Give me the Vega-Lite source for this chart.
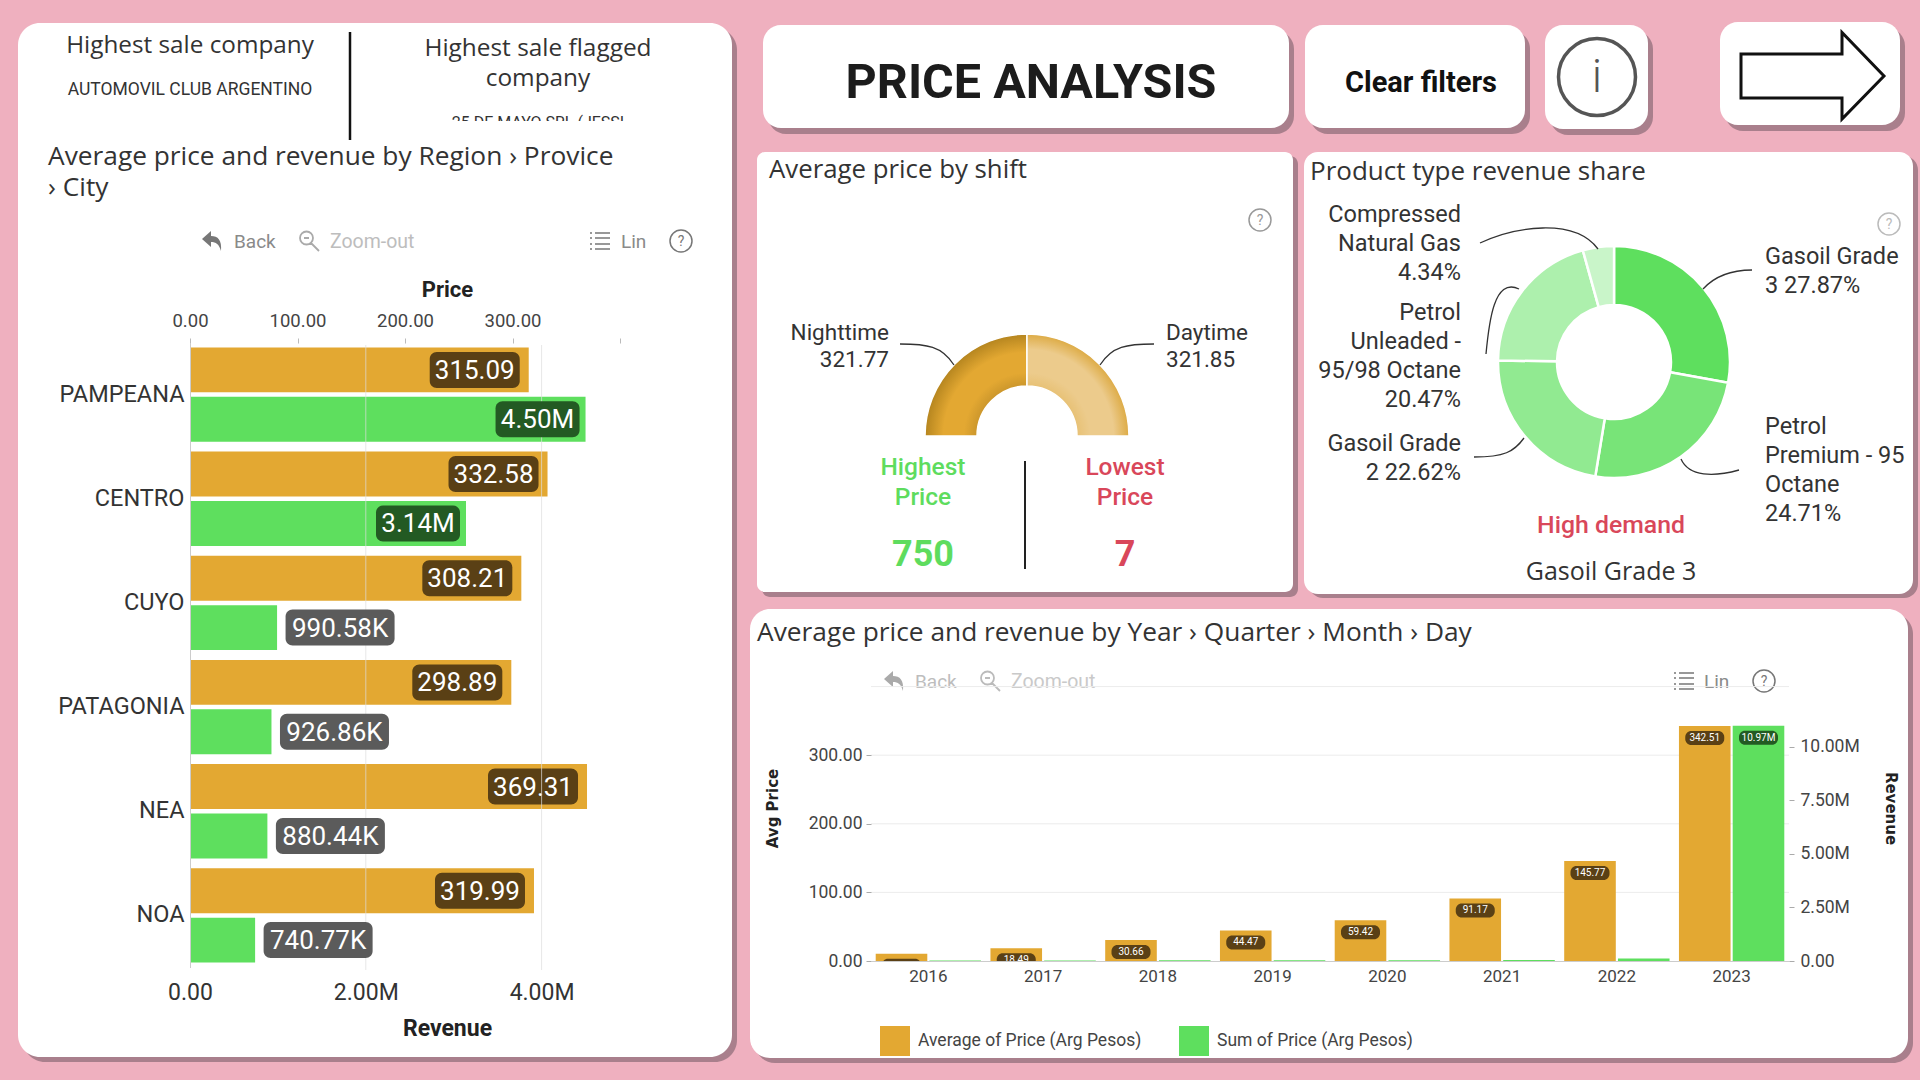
{
"$schema":"https://vega.github.io/schema/vega-lite/v6.json",
"width":1920,"height":1080,"padding":0,
"autosize":{"type":"fit","contains":"padding"},
"background":"#EFB0BF",
"config":{"view":{"stroke":null},"text":{"font":"Roboto","baseline":"middle","color":"#333333","fontSize":23.5,"lineHeight":29},
"axis":{"labelFont":"Roboto","titleFont":"Roboto","grid":false}},
"resolve":{"scale":{"x":"independent","y":"independent","color":"independent","theta":"independent","xOffset":"independent","yOffset":"independent"},"axis":{"x":"independent","y":"independent"},"legend":{"color":"independent"}},
"datasets":{
"card":[{"part":"card"}],
"regions":[
{"region":"PAMPEANA","series":"Price","value":315.09,"label":"315.09"},
{"region":"CENTRO","series":"Price","value":332.58,"label":"332.58"},
{"region":"CUYO","series":"Price","value":308.21,"label":"308.21"},
{"region":"PATAGONIA","series":"Price","value":298.89,"label":"298.89"},
{"region":"NEA","series":"Price","value":369.31,"label":"369.31"},
{"region":"NOA","series":"Price","value":319.99,"label":"319.99"},
{"region":"PAMPEANA","series":"Revenue","value":4500000,"label":"4.50M"},
{"region":"CENTRO","series":"Revenue","value":3140000,"label":"3.14M"},
{"region":"CUYO","series":"Revenue","value":990580,"label":"990.58K"},
{"region":"PATAGONIA","series":"Revenue","value":926860,"label":"926.86K"},
{"region":"NEA","series":"Revenue","value":880440,"label":"880.44K"},
{"region":"NOA","series":"Revenue","value":740770,"label":"740.77K"}],
"years":[
{"year":"2016","series":"Average of Price (Arg Pesos)","value":10.72,"label":"10.72"},
{"year":"2017","series":"Average of Price (Arg Pesos)","value":18.49,"label":"18.49"},
{"year":"2018","series":"Average of Price (Arg Pesos)","value":30.66,"label":"30.66"},
{"year":"2019","series":"Average of Price (Arg Pesos)","value":44.47,"label":"44.47"},
{"year":"2020","series":"Average of Price (Arg Pesos)","value":59.42,"label":"59.42"},
{"year":"2021","series":"Average of Price (Arg Pesos)","value":91.17,"label":"91.17"},
{"year":"2022","series":"Average of Price (Arg Pesos)","value":145.77,"label":"145.77"},
{"year":"2023","series":"Average of Price (Arg Pesos)","value":342.51,"label":"342.51"},
{"year":"2016","series":"Sum of Price (Arg Pesos)","value":20000,"label":""},
{"year":"2017","series":"Sum of Price (Arg Pesos)","value":25000,"label":""},
{"year":"2018","series":"Sum of Price (Arg Pesos)","value":30000,"label":""},
{"year":"2019","series":"Sum of Price (Arg Pesos)","value":35000,"label":""},
{"year":"2020","series":"Sum of Price (Arg Pesos)","value":40000,"label":""},
{"year":"2021","series":"Sum of Price (Arg Pesos)","value":50000,"label":""},
{"year":"2022","series":"Sum of Price (Arg Pesos)","value":120000,"label":""},
{"year":"2023","series":"Sum of Price (Arg Pesos)","value":10970000,"label":"10.97M"}],
"shift":[{"shift":"Nighttime","price":321.77},{"shift":"Daytime","price":321.85}],
"share":[{"product":"Gasoil Grade 3","share":27.87},{"product":"Petrol Premium - 95 Octane","share":24.71},{"product":"Gasoil Grade 2","share":22.62},{"product":"Petrol Unleaded - 95/98 Octane","share":20.47},{"product":"Compressed Natural Gas","share":4.34}]
},
"data":{"name":"card"},
"layer":[
{"mark":{"type":"rect","fill":"#A97F8C","cornerRadius":22},"encoding":{"x":{"value":23},"x2":{"value":737},"y":{"value":28},"y2":{"value":1062}}},
{"mark":{"type":"rect","fill":"#ffffff","cornerRadius":22},"encoding":{"x":{"value":18},"x2":{"value":732},"y":{"value":23},"y2":{"value":1057}}},
{"mark":{"type":"rect","fill":"#A97F8C","cornerRadius":18},"encoding":{"x":{"value":768},"x2":{"value":1294},"y":{"value":31},"y2":{"value":134}}},
{"mark":{"type":"rect","fill":"#ffffff","cornerRadius":18},"encoding":{"x":{"value":763},"x2":{"value":1289},"y":{"value":25},"y2":{"value":128}}},
{"mark":{"type":"rect","fill":"#A97F8C","cornerRadius":18},"encoding":{"x":{"value":1310},"x2":{"value":1530},"y":{"value":31},"y2":{"value":134}}},
{"mark":{"type":"rect","fill":"#ffffff","cornerRadius":18},"encoding":{"x":{"value":1305},"x2":{"value":1525},"y":{"value":25},"y2":{"value":128}}},
{"mark":{"type":"rect","fill":"#A97F8C","cornerRadius":18},"encoding":{"x":{"value":1550},"x2":{"value":1653},"y":{"value":31},"y2":{"value":135}}},
{"mark":{"type":"rect","fill":"#ffffff","cornerRadius":18},"encoding":{"x":{"value":1545},"x2":{"value":1648},"y":{"value":25},"y2":{"value":129}}},
{"mark":{"type":"rect","fill":"#A97F8C","cornerRadius":18},"encoding":{"x":{"value":1725},"x2":{"value":1905},"y":{"value":28},"y2":{"value":131}}},
{"mark":{"type":"rect","fill":"#ffffff","cornerRadius":18},"encoding":{"x":{"value":1720},"x2":{"value":1900},"y":{"value":22},"y2":{"value":125}}},
{"mark":{"type":"rect","fill":"#A97F8C","cornerRadius":8},"encoding":{"x":{"value":762},"x2":{"value":1298},"y":{"value":156},"y2":{"value":597}}},
{"mark":{"type":"rect","fill":"#ffffff","cornerRadius":8},"encoding":{"x":{"value":757},"x2":{"value":1293},"y":{"value":152},"y2":{"value":592}}},
{"mark":{"type":"rect","fill":"#A97F8C","cornerRadius":14},"encoding":{"x":{"value":1309},"x2":{"value":1918},"y":{"value":156},"y2":{"value":598}}},
{"mark":{"type":"rect","fill":"#ffffff","cornerRadius":14},"encoding":{"x":{"value":1304},"x2":{"value":1913},"y":{"value":152},"y2":{"value":594}}},
{"mark":{"type":"rect","fill":"#A97F8C","cornerRadius":20},"encoding":{"x":{"value":755},"x2":{"value":1913},"y":{"value":614},"y2":{"value":1063}}},
{"mark":{"type":"rect","fill":"#ffffff","cornerRadius":20},"encoding":{"x":{"value":750},"x2":{"value":1908},"y":{"value":609},"y2":{"value":1058}}},

{"data":{"values":[{"t":"Highest sale company"}]},"mark":{"type":"text","align":"center","font":"Open Sans","fontSize":24.3},"encoding":{"text":{"field":"t"},"x":{"value":190},"y":{"value":46}}},
{"data":{"values":[{"t":"AUTOMOVIL CLUB ARGENTINO"}]},"mark":{"type":"text","align":"center","fontSize":17.5},"encoding":{"text":{"field":"t"},"x":{"value":190},"y":{"value":90}}},
{"data":{"values":[{"t":"25 DE MAYO SRL (JESSI"}]},"mark":{"type":"text","align":"center","fontSize":16},"encoding":{"text":{"field":"t"},"x":{"value":538},"y":{"value":123}}},
{"mark":{"type":"rect","fill":"#ffffff"},"encoding":{"x":{"value":400},"x2":{"value":680},"y":{"value":121},"y2":{"value":138}}},
{"mark":{"type":"rule","stroke":"#111111","strokeWidth":2.5},"encoding":{"x":{"value":350},"y":{"value":32},"y2":{"value":140}}},
{"data":{"values":[{"t":"Highest sale flagged\ncompany"}]},"mark":{"type":"text","align":"center","font":"Open Sans","fontSize":24.4,"lineBreak":"\n","lineHeight":30},"encoding":{"text":{"field":"t"},"x":{"value":538},"y":{"value":49}}},
{"data":{"values":[{"t":"Average price and revenue by Region › Provice\n› City"}]},"mark":{"type":"text","align":"left","font":"Open Sans","fontSize":26.3,"lineBreak":"\n","lineHeight":31},"encoding":{"text":{"field":"t"},"x":{"value":48},"y":{"value":157}}},
{"data":{"values":[{"t":"Back"}]},"mark":{"type":"text","align":"left","fontSize":19,"color":"#8a8a8a"},"encoding":{"text":{"field":"t"},"x":{"value":234},"y":{"value":242}}},
{"data":{"values":[{"t":"Zoom-out"}]},"mark":{"type":"text","align":"left","fontSize":19.5,"color":"#bdbdbd"},"encoding":{"text":{"field":"t"},"x":{"value":330},"y":{"value":242}}},
{"data":{"values":[{"t":"Lin"}]},"mark":{"type":"text","align":"left","fontSize":19,"color":"#8a8a8a"},"encoding":{"text":{"field":"t"},"x":{"value":621},"y":{"value":242}}},
{"data":{"values":[{"t":"?"}]},"mark":{"type":"text","align":"center","fontSize":14,"color":"#777777"},"encoding":{"text":{"field":"t"},"x":{"value":681},"y":{"value":242}}},
{"mark":{"type":"point","shape":"circle","size":484,"stroke":"#777777","strokeWidth":1.5,"opacity":1},"encoding":{"x":{"value":681},"y":{"value":241}}},
{"mark":{"type":"point","shape":"M-10,-2 L-1,-10 L-1,-5 C6,-5 10,-1 9,10 C7,3 4,1 -1,1 L-1,6 Z","size":4,"filled":true,"fill":"#777777","opacity":1},"encoding":{"x":{"value":212},"y":{"value":241}}},
{"mark":{"type":"point","shape":"M-9,-3 A6.5,6.5 0 1,1 4,-3 A6.5,6.5 0 1,1 -9,-3 M2,2 L10,10 M-5,-3 L0,-3","size":4,"stroke":"#aaaaaa","strokeWidth":1.8,"opacity":1},"encoding":{"x":{"value":309},"y":{"value":241}}},
{"mark":{"type":"point","shape":"M-5,-8 L10,-8 M-5,-3 L10,-3 M-5,3 L10,3 M-5,8 L10,8 M-10,-8 L-8,-8 M-10,-3 L-8,-3 M-10,3 L-8,3 M-10,8 L-8,8","size":4,"stroke":"#777777","strokeWidth":1.5,"opacity":1},"encoding":{"x":{"value":600},"y":{"value":241}}},

{
"layer":[
{"transform":[{"filter":"datum.series=='Price'"}],"data":{"name":"regions"},
"encoding":{"x":{"field":"value","type":"quantitative","scale":{"domain":[0,400],"range":[190,620],"nice":false},
"axis":{"zindex":1,"orient":"top","offset":-343,"values":[0,100,200,300,400],"labelExpr":"datum.value<400?format(datum.value,'.2f'):''","labelFlush":false,"labelFontSize":18.5,"labelColor":"#444444","labelPadding":8,"domain":false,"tickColor":"#bbbbbb","tickSize":5,"title":"Price","titleFontSize":22,"titleFontWeight":"bold","titleColor":"#222222","titleX":447,"titleY":-42,"titlePadding":0}},
"y":{"field":"region","type":"nominal","sort":null,"scale":{"domain":["PAMPEANA","CENTRO","CUYO","PATAGONIA","NEA","NOA"],"range":[342.5,967.5],"paddingInner":0.094,"paddingOuter":0.047},
"axis":{"zindex":1,"orient":"left","offset":-190,"title":null,"labelFontSize":23.5,"labelColor":"#333333","ticks":false,"domainColor":"#cccccc","labelPadding":6}},
"yOffset":{"field":"series","scale":{"domain":["Price","Revenue"],"paddingInner":0.09}}},
"layer":[
{"mark":{"type":"bar","fill":"#E3A832"}},
{"mark":{"type":"rect","width":90,"height":36,"cornerRadius":7,"fill":"#5A4015","xOffset":-54,"yOffset":1}},
{"mark":{"type":"text","fontSize":26,"color":"#ffffff","dx":-54,"dy":1,"align":"center"},"encoding":{"text":{"field":"label"}}}
]},
{"transform":[{"filter":"datum.series=='Revenue'"}],"data":{"name":"regions"},
"encoding":{"x":{"field":"value","type":"quantitative","scale":{"domain":[0,4892000],"range":[190,620],"nice":false},
"axis":{"zindex":1,"orient":"bottom","offset":-108,"values":[0,2000000,4000000],"labelExpr":"datum.value==0?'0.00':format(datum.value/1000000,'.2f')+'M'","labelFlush":false,"labelFontSize":23,"labelColor":"#333333","labelPadding":9,"ticks":false,"domain":false,"title":"Revenue","titleFontSize":23,"titleFontWeight":"bold","titleColor":"#222222","titleX":447,"titleY":45,"titlePadding":0}},
"y":{"field":"region","type":"nominal","sort":null,"axis":{"zindex":1,"orient":"left","offset":-190,"title":null,"labelFontSize":23.5,"labelColor":"#333333","ticks":false,"domainColor":"#cccccc","labelPadding":6}},
"yOffset":{"field":"series"}},
"layer":[
{"mark":{"type":"bar","fill":"#5EDF5E"}},
{"data":{"values":[{"value":2000000},{"value":4000000}]},"mark":{"type":"rule","stroke":"#dddddd","strokeWidth":1,"opacity":0.7},"encoding":{"y":{"value":345},"y2":{"value":970},"yOffset":null}},
{"transform":[{"filter":"datum.value>=2000000"}],"mark":{"type":"rect","width":84,"height":36,"cornerRadius":7,"fill":"#235A23","xOffset":-48,"yOffset":1}},
{"transform":[{"filter":"datum.value>=2000000"}],"mark":{"type":"text","fontSize":26,"color":"#ffffff","dx":-48,"dy":1,"align":"center"},"encoding":{"text":{"field":"label"}}},
{"transform":[{"filter":"datum.value<2000000"}],"mark":{"type":"rect","width":109,"height":36,"cornerRadius":7,"fill":"#5B5B5B","xOffset":63,"yOffset":1}},
{"transform":[{"filter":"datum.value<2000000"}],"mark":{"type":"text","fontSize":26,"color":"#ffffff","dx":63,"dy":1,"align":"center"},"encoding":{"text":{"field":"label"}}}
]}
],
"resolve":{"scale":{"x":"independent"},"axis":{"x":"independent"}}
},

{"data":{"values":[{"t":"PRICE ANALYSIS"}]},"mark":{"type":"text","align":"center","fontSize":48.5,"fontWeight":"bold","color":"#1c1c1c"},"encoding":{"text":{"field":"t"},"x":{"value":1031},"y":{"value":83}}},
{"data":{"values":[{"t":"Clear filters"}]},"mark":{"type":"text","align":"center","fontSize":29,"fontWeight":"bold","color":"#111111"},"encoding":{"text":{"field":"t"},"x":{"value":1421},"y":{"value":83}}},
{"mark":{"type":"point","shape":"circle","size":5929,"stroke":"#555555","strokeWidth":3.5,"opacity":1},"encoding":{"x":{"value":1597},"y":{"value":77}}},
{"data":{"values":[{"t":"i"}]},"mark":{"type":"text","align":"center","fontSize":46,"fontWeight":300,"color":"#555555"},"encoding":{"text":{"field":"t"},"x":{"value":1597},"y":{"value":78}}},
{"mark":{"type":"point","shape":"M-69,-22 L32,-22 L32,-43.5 L74,0 L32,43 L32,22 L-69,22 Z","size":4,"stroke":"#111111","strokeWidth":3,"opacity":1},"encoding":{"x":{"value":1810},"y":{"value":76}}},

{"data":{"values":[{"t":"Average price by shift"}]},"mark":{"type":"text","align":"left","font":"Open Sans","fontSize":25.8},"encoding":{"text":{"field":"t"},"x":{"value":769},"y":{"value":170}}},
{"data":{"values":[{"t":"?"}]},"mark":{"type":"text","align":"center","fontSize":14,"color":"#999999"},"encoding":{"text":{"field":"t"},"x":{"value":1260},"y":{"value":221}}},
{"mark":{"type":"point","shape":"circle","size":484,"stroke":"#999999","strokeWidth":1.5,"opacity":1},"encoding":{"x":{"value":1260},"y":{"value":220}}},
{"data":{"name":"shift"},"transform":[{"filter":"datum.shift=='Nighttime'"}],
"mark":{"type":"arc","radius":102,"radius2":50,"stroke":"#ffffff","strokeWidth":1.5,"fill":{"gradient":"radial","x1":1,"y1":1,"x2":1,"y2":1,"r1":0,"r2":1,"stops":[{"offset":0.45,"color":"#C4912A"},{"offset":0.62,"color":"#E3A832"},{"offset":0.82,"color":"#E3A832"},{"offset":1,"color":"#B5851F"}]}},
"encoding":{"theta":{"field":"price","type":"quantitative","stack":null,"scale":{"domain":[0,643.62],"range":[-1.5708,1.5708]}},"theta2":{"datum":0},"x":{"value":1027},"y":{"value":436}}},
{"data":{"name":"shift"},"transform":[{"filter":"datum.shift=='Daytime'"}],
"mark":{"type":"arc","radius":102,"radius2":50,"stroke":"#ffffff","strokeWidth":1.5,"fill":{"gradient":"radial","x1":0,"y1":1,"x2":0,"y2":1,"r1":0,"r2":1,"stops":[{"offset":0.45,"color":"#E6BE6E"},{"offset":0.62,"color":"#ECCB8C"},{"offset":0.85,"color":"#ECCB8C"},{"offset":1,"color":"#DDAB45"}]}},
"encoding":{"theta":{"field":"price","type":"quantitative","stack":null,"scale":{"domain":[0,643.62],"range":[1.5708,-1.5708]}},"theta2":{"datum":0},"x":{"value":1027},"y":{"value":436}}},
{"mark":{"type":"point","shape":"M-127,-92 C-100,-92 -85,-90 -73,-71 M127,-92 C100,-92 85,-90 73,-71","size":4,"stroke":"#333333","strokeWidth":1.3,"opacity":1},"encoding":{"x":{"value":1027},"y":{"value":436}}},
{"data":{"values":[{"t":"Nighttime\n321.77"}]},"mark":{"type":"text","align":"right","fontSize":22.5,"lineBreak":"\n","lineHeight":27},"encoding":{"text":{"field":"t"},"x":{"value":889},"y":{"value":333}}},
{"data":{"values":[{"t":"Daytime\n321.85"}]},"mark":{"type":"text","align":"left","fontSize":22.5,"lineBreak":"\n","lineHeight":27},"encoding":{"text":{"field":"t"},"x":{"value":1166},"y":{"value":333}}},
{"data":{"values":[{"t":"Highest\nPrice"}]},"mark":{"type":"text","align":"center","fontSize":24.5,"fontWeight":500,"color":"#5EDC5E","lineBreak":"\n","lineHeight":30},"encoding":{"text":{"field":"t"},"x":{"value":923},"y":{"value":468}}},
{"data":{"values":[{"t":"Lowest\nPrice"}]},"mark":{"type":"text","align":"center","fontSize":24.5,"fontWeight":500,"color":"#D9475A","lineBreak":"\n","lineHeight":30},"encoding":{"text":{"field":"t"},"x":{"value":1125},"y":{"value":468}}},
{"data":{"values":[{"t":"750"}]},"mark":{"type":"text","align":"center","fontSize":36,"fontWeight":"bold","color":"#5EDC5E"},"encoding":{"text":{"field":"t"},"x":{"value":923},"y":{"value":555}}},
{"data":{"values":[{"t":"7"}]},"mark":{"type":"text","align":"center","fontSize":36,"fontWeight":"bold","color":"#D9475A"},"encoding":{"text":{"field":"t"},"x":{"value":1125},"y":{"value":555}}},
{"mark":{"type":"rule","stroke":"#222222","strokeWidth":2},"encoding":{"x":{"value":1025},"y":{"value":461},"y2":{"value":569}}},

{"data":{"values":[{"t":"Product type revenue share"}]},"mark":{"type":"text","align":"left","font":"Open Sans","fontSize":26},"encoding":{"text":{"field":"t"},"x":{"value":1310},"y":{"value":172}}},
{"data":{"values":[{"t":"?"}]},"mark":{"type":"text","align":"center","fontSize":14,"color":"#bbbbbb"},"encoding":{"text":{"field":"t"},"x":{"value":1889},"y":{"value":225}}},
{"mark":{"type":"point","shape":"circle","size":484,"stroke":"#bbbbbb","strokeWidth":1.5,"opacity":1},"encoding":{"x":{"value":1889},"y":{"value":224}}},
{"data":{"name":"share"},"mark":{"type":"arc","radius":116,"radius2":57,"stroke":"#ffffff","strokeWidth":2.5},
"encoding":{"theta":{"field":"share","type":"quantitative","scale":{"domain":[0,100],"range":[0,6.2832]}},"order":{"field":"share","sort":"descending"},
"color":{"field":"product","type":"nominal","legend":null,"scale":{"domain":["Gasoil Grade 3","Petrol Premium - 95 Octane","Gasoil Grade 2","Petrol Unleaded - 95/98 Octane","Compressed Natural Gas"],"range":["#5EDF5E","#78E478","#91EA91","#ADF0AD","#C9F5C9"]}},"x":{"value":1614},"y":{"value":362}}},
{"mark":{"type":"point","shape":"M-134,-119 C-100,-135 -40,-145 -16,-113 M-128,-8 C-125,-40 -120,-85 -95,-73 M-140,95 C-110,95 -100,90 -90,76 M138,-92 C115,-92 100,-85 89,-73 M125,108 C100,115 75,115 67,97","size":4,"stroke":"#333333","strokeWidth":1.3,"opacity":1},"encoding":{"x":{"value":1614},"y":{"value":362}}},
{"data":{"values":[{"t":"Compressed\nNatural Gas\n4.34%"}]},"mark":{"type":"text","align":"right","lineBreak":"\n"},"encoding":{"text":{"field":"t"},"x":{"value":1461},"y":{"value":215}}},
{"data":{"values":[{"t":"Petrol\nUnleaded -\n95/98 Octane\n20.47%"}]},"mark":{"type":"text","align":"right","lineBreak":"\n"},"encoding":{"text":{"field":"t"},"x":{"value":1461},"y":{"value":313}}},
{"data":{"values":[{"t":"Gasoil Grade\n2 22.62%"}]},"mark":{"type":"text","align":"right","lineBreak":"\n"},"encoding":{"text":{"field":"t"},"x":{"value":1461},"y":{"value":444}}},
{"data":{"values":[{"t":"Gasoil Grade\n3 27.87%"}]},"mark":{"type":"text","align":"left","lineBreak":"\n"},"encoding":{"text":{"field":"t"},"x":{"value":1765},"y":{"value":257}}},
{"data":{"values":[{"t":"Petrol\nPremium - 95\nOctane\n24.71%"}]},"mark":{"type":"text","align":"left","lineBreak":"\n"},"encoding":{"text":{"field":"t"},"x":{"value":1765},"y":{"value":427}}},
{"data":{"values":[{"t":"High demand"}]},"mark":{"type":"text","align":"center","fontSize":24.8,"fontWeight":500,"color":"#D9475A"},"encoding":{"text":{"field":"t"},"x":{"value":1611},"y":{"value":526}}},
{"data":{"values":[{"t":"Gasoil Grade 3"}]},"mark":{"type":"text","align":"center","font":"Open Sans","fontSize":25},"encoding":{"text":{"field":"t"},"x":{"value":1611},"y":{"value":572}}},

{"data":{"values":[{"t":"Average price and revenue by Year › Quarter › Month › Day"}]},"mark":{"type":"text","align":"left","font":"Open Sans","fontSize":26.3},"encoding":{"text":{"field":"t"},"x":{"value":757},"y":{"value":633}}},
{"data":{"values":[{"t":"Back"}]},"mark":{"type":"text","align":"left","fontSize":19,"color":"#bdbdbd"},"encoding":{"text":{"field":"t"},"x":{"value":915},"y":{"value":682}}},
{"data":{"values":[{"t":"Zoom-out"}]},"mark":{"type":"text","align":"left","fontSize":19.5,"color":"#c9c9c9"},"encoding":{"text":{"field":"t"},"x":{"value":1011},"y":{"value":682}}},
{"data":{"values":[{"t":"Lin"}]},"mark":{"type":"text","align":"left","fontSize":19,"color":"#8a8a8a"},"encoding":{"text":{"field":"t"},"x":{"value":1704},"y":{"value":682}}},
{"data":{"values":[{"t":"?"}]},"mark":{"type":"text","align":"center","fontSize":14,"color":"#777777"},"encoding":{"text":{"field":"t"},"x":{"value":1764},"y":{"value":682}}},
{"mark":{"type":"point","shape":"circle","size":484,"stroke":"#777777","strokeWidth":1.5,"opacity":1},"encoding":{"x":{"value":1764},"y":{"value":681}}},
{"mark":{"type":"point","shape":"M-10,-2 L-1,-10 L-1,-5 C6,-5 10,-1 9,10 C7,3 4,1 -1,1 L-1,6 Z","size":4,"filled":true,"fill":"#aaaaaa","opacity":1},"encoding":{"x":{"value":894},"y":{"value":681}}},
{"mark":{"type":"point","shape":"M-9,-3 A6.5,6.5 0 1,1 4,-3 A6.5,6.5 0 1,1 -9,-3 M2,2 L10,10 M-5,-3 L0,-3","size":4,"stroke":"#bbbbbb","strokeWidth":1.8,"opacity":1},"encoding":{"x":{"value":990},"y":{"value":681}}},
{"mark":{"type":"point","shape":"M-5,-8 L10,-8 M-5,-3 L10,-3 M-5,3 L10,3 M-5,8 L10,8 M-10,-8 L-8,-8 M-10,-3 L-8,-3 M-10,3 L-8,3 M-10,8 L-8,8","size":4,"stroke":"#777777","strokeWidth":1.5,"opacity":1},"encoding":{"x":{"value":1684},"y":{"value":681}}},

{"data":{"values":[{"value":100},{"value":200},{"value":300},{"value":400}]},"mark":{"type":"rule","stroke":"#ececec","strokeWidth":1},"encoding":{"y":{"field":"value","type":"quantitative","axis":null,"scale":{"domain":[0,400],"range":[961,686.6],"nice":false}},"x":{"value":871},"x2":{"value":1789}}},
{
"layer":[
{"data":{"name":"years"},"transform":[{"filter":"datum.series=='Average of Price (Arg Pesos)'"}],
"encoding":{"x":{"field":"year","type":"nominal","sort":null,"scale":{"range":[871,1789],"paddingInner":0.082,"paddingOuter":0.041},
"axis":{"zindex":1,"orient":"bottom","offset":-119,"title":null,"labelAngle":0,"labelFontSize":17,"labelColor":"#444444","labelPadding":7,"ticks":false,"domainColor":"#cccccc"}},
"xOffset":{"field":"series","scale":{"domain":["Average of Price (Arg Pesos)","Sum of Price (Arg Pesos)"],"paddingInner":0.04}},
"y":{"field":"value","type":"quantitative","stack":null,"scale":{"domain":[0,400],"range":[961,686.6],"nice":false},
"axis":{"zindex":1,"orient":"left","offset":-871,"values":[0,100,200,300],"format":".2f","labelFontSize":17.5,"labelColor":"#444444","tickColor":"#aaaaaa","tickSize":5,"domain":false,"labelPadding":4,"title":"Avg Price","titleFont":"DejaVu Sans","titleFontSize":15,"titleFontWeight":"bold","titleColor":"#222222","titleX":-91,"titleY":808,"titleAngle":-90,"titlePadding":0}}},
"layer":[
{"mark":{"type":"bar"},"encoding":{"color":{"field":"series","type":"nominal","scale":{"domain":["Average of Price (Arg Pesos)","Sum of Price (Arg Pesos)"],"range":["#E3A832","#5EDF5E"]},
"legend":{"orient":"none","legendX":880,"legendY":1026,"direction":"horizontal","title":null,"symbolType":"square","symbolSize":900,"symbolStrokeWidth":0,"labelFont":"Roboto","labelFontSize":17.5,"labelColor":"#444444","labelLimit":300,"columnPadding":37,"labelOffset":8}}}},
{"mark":{"type":"rect","width":39,"height":14,"cornerRadius":6,"fill":"#5A4015","yOffset":12}},
{"mark":{"type":"text","fontSize":10,"color":"#ffffff","dy":12,"align":"center"},"encoding":{"text":{"field":"label"}}}
]},
{"data":{"name":"years"},"transform":[{"filter":"datum.series=='Sum of Price (Arg Pesos)'"}],
"encoding":{"x":{"field":"year","type":"nominal","sort":null},
"xOffset":{"field":"series"},
"y":{"field":"value","type":"quantitative","stack":null,"scale":{"domain":[0,12800000],"range":[961,686.6],"nice":false},
"axis":{"zindex":1,"orient":"right","offset":-131,"values":[0,2500000,5000000,7500000,10000000],"labelExpr":"datum.value==0?'0.00':format(datum.value/1000000,'.2f')+'M'","labelFontSize":17.5,"labelColor":"#444444","tickColor":"#aaaaaa","tickSize":5,"domain":false,"labelPadding":6,"title":"Revenue","titleFont":"DejaVu Sans","titleFontSize":15,"titleFontWeight":"bold","titleColor":"#222222","titleX":93,"titleY":808,"titleAngle":90,"titlePadding":0}}},
"layer":[
{"mark":{"type":"bar"},"encoding":{"color":{"field":"series","type":"nominal","legend":null}}},
{"transform":[{"filter":"datum.value>1000000"}],"mark":{"type":"rect","width":39,"height":14,"cornerRadius":6,"fill":"#235A23","yOffset":12}},
{"transform":[{"filter":"datum.value>1000000"}],"mark":{"type":"text","fontSize":10,"color":"#ffffff","dy":12,"align":"center"},"encoding":{"text":{"field":"label"}}}
]}
],
"resolve":{"scale":{"y":"independent"},"axis":{"y":"independent"}}
},
{"mark":{"type":"rect","fill":"#ffffff"},"encoding":{"x":{"value":872},"x2":{"value":1060},"y":{"value":962},"y2":{"value":985}}}
]
}
